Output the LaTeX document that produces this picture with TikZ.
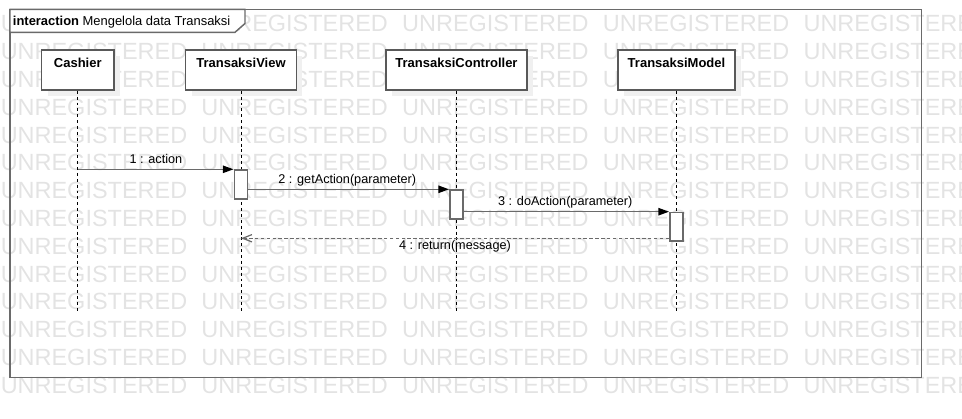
\documentclass[tikz,border=0pt]{standalone}
\usepackage{fontspec}
\setmainfont{Liberation Sans}
\usetikzlibrary{arrows.meta,shadows,calc}
\definecolor{wmgray}{HTML}{E3E3E3}
\definecolor{linegray}{HTML}{6A6A6A}
\definecolor{boxgray}{HTML}{595959}
\begin{document}
\begin{tikzpicture}[x=0.75pt,y=-0.75pt,
  head/.style={draw=boxgray, line width=1.1pt, fill=white, inner xsep=0pt, inner ysep=0pt,
    text height=12.75pt, text depth=17.25pt, anchor=north,
    font=\fontsize{9.75pt}{11pt}\selectfont\bfseries,
    drop shadow={shadow xshift=4.5pt,shadow yshift=-4.5pt,fill=black!6,opacity=1,draw=none}},
  actbox/.style={draw=linegray, line width=1.2pt, fill=white, inner sep=0pt,
    minimum width=10pt, anchor=north},
  lifeline/.style={draw=black, line width=0.75pt, dash pattern=on 2.2pt off 2.2pt},
  msg/.style={draw=linegray, line width=1.1pt, -{Triangle[length=8pt,width=5.5pt,color=black,fill=black]}},
  ret/.style={draw=linegray, line width=0.9pt, dash pattern=on 2.6pt off 1.8pt,
    -{Straight Barb[length=7pt,width=5.5pt,color=linegray]}},
  lbl/.style={anchor=base, inner sep=0pt, font=\fontsize{9.5pt}{11pt}\selectfont},
  wm/.style={anchor=base west, inner sep=0pt, text=wmgray, font=\fontsize{17.6pt}{17.6pt}\selectfont}
]
\useasboundingbox (0,0) rectangle (962,418);
% watermark
\begin{scope}
  \clip (0,0) rectangle (962,418);
  \foreach \r in {0,...,13}{
    \foreach \c in {0,...,4}{
      \node[wm] (wm-\r-\c) at ({0.5+200.7*\c},{31.8+27.8*\r}) {UNREGISTERED};
    }
  }
\end{scope}
% frame
\draw[draw=linegray, line width=1.1pt] (10,9.3) rectangle (921.5,377.7);
\draw[draw=linegray, line width=1.1pt, fill=white] (10,9.3) -- (245,9.3) -- (245,23.5) -- (235,32.3) -- (10,32.3) -- cycle;
\node[anchor=base west, inner sep=0pt, font=\fontsize{9.7pt}{11pt}\selectfont] (title) at (12.7,25)
  {\textbf{interaction} Mengelola data Transaksi};
% lifeline heads
\node[head, minimum width=54.2pt] (C) at (77.8,49.3) {Cashier};
\node[head, minimum width=83pt] (V) at (241,49.3) {TransaksiView};
\node[head, minimum width=105.5pt] (K) at (456.5,49.3) {TransaksiController};
\node[head, minimum width=88pt] (M) at (676.5,49.3) {TransaksiModel};
\coordinate (lend) at (0,313);
\draw[lifeline] (C.south) -- (C.south |- lend);
\draw[lifeline] (V.south) -- (V.south |- lend);
\draw[lifeline] (K.south) -- (K.south |- lend);
\draw[lifeline] (M.south) -- (M.south |- lend);
% activations
\node[actbox, minimum height=21.75pt] (aV) at (241,169.3) {};
\node[actbox, minimum height=21.75pt] (aK) at (456.5,189.3) {};
\node[actbox, minimum height=21.2pt] (aM) at (676.5,211.7) {};
% messages
\draw[msg] (C.south |- aV.north west) -- (aV.north west);
\draw[msg] (aV.east |- aK.north west) -- (aK.north west);
\draw[msg] (aK.east |- aM.north west) -- (aM.north west);
\coordinate (r4) at ($(aM.south west)+(0,-3.3)$);
\draw[ret] (r4) -- (V.south |- r4);
% labels
\node[lbl] (l1) at (155.9,163) {1 : action};
\node[lbl] (l2) at (347.3,183.3) {2 : getAction(parameter)};
\node[lbl] (l3) at (565.3,205) {3 : doAction(parameter)};
\node[lbl] (l4) at (455,249.5) {4 : return(message)};
\end{tikzpicture}
\end{document}
